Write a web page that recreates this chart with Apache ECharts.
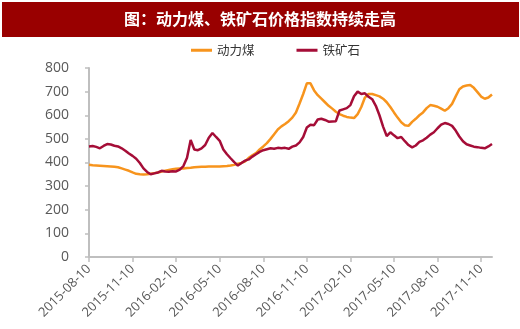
<!DOCTYPE html>
<html>
<head>
<meta charset="utf-8">
<script src="https://cdn.jsdelivr.net/npm/echarts@6/dist/echarts.min.js"></script>
<style>
html,body{margin:0;padding:0;background:#fff;}
#chart{width:520px;height:329px;}
</style>
</head>
<body>
<div id="chart"></div>
<script>
var titleText = '图：动力煤、铁矿石价格指数持续走高';
var seriesNames = ['动力煤', '铁矿石'];
var tickLabels = ['2015-08-10','2015-11-10','2016-02-10','2016-05-10','2016-08-10','2016-11-10','2017-02-10','2017-05-10','2017-08-10','2017-11-10'];
var yTicks = [0,100,200,300,400,500,600,700,800];

// weekly-ish observation dates: 10, 17, 24 of each month and 03 of the next
var categories = [];
(function(){
  var y = 2015, m = 8;
  function p(n){ return (n < 10 ? '0' : '') + n; }
  for (var k = 0; k < 28; k++) {
    categories.push(y + '-' + p(m) + '-10');
    categories.push(y + '-' + p(m) + '-17');
    categories.push(y + '-' + p(m) + '-24');
    var ny = m === 12 ? y + 1 : y, nm = m === 12 ? 1 : m + 1;
    categories.push(ny + '-' + p(nm) + '-03');
    y = ny; m = nm;
  }
})();

var coal = [390,388,387,386,385,384,383,382,380,375,370,365,358,352,350,349,350,352,355,358,
362,365,368,371,374,375,375,377,378,380,381,382,382,383,383,383,383,384,385,387,
390,395,398,405,420,430,440,455,468,482,500,520,540,553,563,575,590,612,650,690,
735,735,705,685,670,655,640,628,615,605,598,593,590,588,605,635,675,690,690,685,
680,670,655,635,612,590,570,558,555,572,585,600,612,630,643,640,636,628,619,630,
648,680,710,722,726,728,716,698,679,670,675,688];

var ore = [468,470,466,460,470,478,476,471,468,460,450,438,428,416,398,375,360,350,354,358,
365,362,361,363,362,370,385,420,495,455,452,460,474,505,525,508,492,455,435,418,
402,387,398,408,413,425,435,445,452,456,460,458,462,460,462,458,467,472,485,508,
548,560,558,582,585,580,573,574,575,620,625,630,643,680,700,690,693,678,668,640,
600,552,512,528,515,503,508,490,474,464,472,487,494,505,518,528,545,560,567,563,
555,535,510,490,477,472,467,465,462,460,468,478];

var colors = ['#F7941D', '#A50D37'];
var axisColor = '#BFBFBF';
var labelColor = '#595959';

var chart = echarts.init(document.getElementById('chart'), null, {renderer:'canvas'});
function isTick(idx, val){ return tickLabels.indexOf(val) >= 0; }

chart.setOption({
  animation: false,
  backgroundColor: '#fff',
  graphic: [
    {type:'rect', left:2, top:2, shape:{width:517, height:35}, style:{fill:'#990000'}, z:0},
    {type:'text', left:'center', top:11, style:{text:titleText, fill:'#fff', font:'bold 16px "Noto Sans CJK SC"'}, z:1}
  ],
  legend: {
    top: 39, left: 186,
    itemWidth: 21, itemHeight: 3, itemGap: 42,
    icon: 'rect',
    textStyle: {fontSize: 12.5, color: '#333', fontFamily: '"Noto Sans CJK SC"'},
    data: seriesNames
  },
  grid: {left: 89, right: 28, top: 68, bottom: 72},
  xAxis: {
    type: 'category',
    data: categories,
    boundaryGap: false,
    axisLine: {lineStyle: {color: axisColor, width: 2}},
    axisTick: {show: true, interval: isTick, length: 5, lineStyle: {color: axisColor, width: 1.5}},
    axisLabel: {interval: isTick, rotate: 45, fontSize: 13, color: labelColor, margin: 10, fontFamily: '"Open Sans", sans-serif'},
    splitLine: {show: false}
  },
  yAxis: {
    type: 'value',
    min: 0, max: 800, interval: 100,
    axisLine: {show: true, lineStyle: {color: axisColor, width: 2}},
    axisTick: {show: true, length: 4, lineStyle: {color: axisColor, width: 1.5}},
    axisLabel: {fontSize: 14, color: labelColor, margin: 20, fontFamily: '"Open Sans", sans-serif'},
    splitLine: {show: false}
  },
  series: [
    {name: seriesNames[0], type: 'line', data: coal, showSymbol: false, symbol: 'none',
     lineStyle: {color: colors[0], width: 2.5}, itemStyle: {color: colors[0]}},
    {name: seriesNames[1], type: 'line', data: ore, showSymbol: false, symbol: 'none',
     lineStyle: {color: colors[1], width: 2.5}, itemStyle: {color: colors[1]}}
  ]
});
</script>
</body>
</html>
